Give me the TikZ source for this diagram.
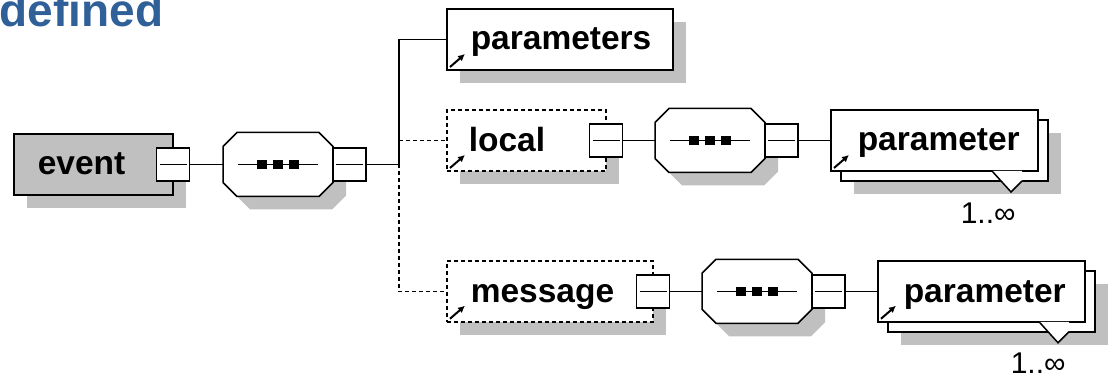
\documentclass[tikz,border=0pt]{standalone}
\usepackage{fontspec}
\setmainfont{Liberation Sans}
\usetikzlibrary{calc,shadows,arrows.meta}
\definecolor{shadegray}{RGB}{192,192,192}
\definecolor{titleblue}{RGB}{47,96,152}
% octagonal outline of a sequence compositor, optionally shifted by (#3,#4)
\newcommand\octshape[4]{%
  \path[#1] ($(#2.north west)+(14+#3,#4)$) -- ($(#2.north east)+(-14+#3,#4)$)
    -- ($(#2.north east)+(#3,14+#4)$) -- ($(#2.south east)+(#3,-14+#4)$)
    -- ($(#2.south east)+(-14+#3,#4)$) -- ($(#2.south west)+(14+#3,#4)$)
    -- ($(#2.south west)+(#3,-14+#4)$) -- ($(#2.north west)+(#3,14+#4)$) -- cycle;}
% full sequence symbol: shadow, body, line and three squares
\newcommand\seqsymbol[1]{%
  \octshape{fill=shadegray}{#1}{13}{13}
  \octshape{draw=black, fill=white}{#1}{0}{0}
  \draw ($(#1.west)+(15,0)$) -- ($(#1.east)+(-15,0)$);
  \foreach \d in {-16,0,16}
    \fill ($(#1.center)+(\d-4.75,-4.75)$) rectangle +(9.5,9.5);}
\begin{document}
\begin{tikzpicture}[x=1pt,y=-1pt,line width=1.5pt,
  shadowed/.style={drop shadow={shadow xshift=13pt, shadow yshift=-13pt, fill=shadegray, opacity=1}},
  box/.style={rectangle, draw=black, fill=white, inner sep=0pt, outer sep=0pt, minimum height=61pt, shadowed},
  optional/.style={dash pattern=on 4pt off 3pt},
  ref/.style={path picture={\draw[solid, line width=2pt, -{Latex[length=7pt,width=7pt]}]
      ([shift={(3pt,3pt)}]path picture bounding box.south west) -- ++(15pt,13pt);}},
  stacked/.style={rectangle, draw=black, fill=white, inner sep=0pt, outer sep=0pt, minimum height=61pt,
      drop shadow={shadow xshift=23pt, shadow yshift=-23pt, fill=shadegray, opacity=1},
      copy shadow={shadow xshift=10pt, shadow yshift=-10pt}},
  conn/.style={rectangle, draw=black, fill=white, solid, inner sep=0pt, outer sep=0pt,
      minimum width=33pt, minimum height=33pt,
      path picture={\draw[solid, line width=1.5pt] ([xshift=3pt]path picture bounding box.west)
        -- ([xshift=-3pt]path picture bounding box.east);}},
  seqframe/.style={rectangle, draw=none, inner sep=0pt, outer sep=0pt, minimum width=110pt, minimum height=64pt},
  elemlabel/.style={anchor=base west, inner sep=0pt, font=\bfseries\fontsize{33.5}{40}\selectfont},
  mult/.style={anchor=base west, inner sep=0pt, font=\fontsize{30}{36}\selectfont},
]
\useasboundingbox (0,0) rectangle (1108,374);

% heading
\node[anchor=base west, inner sep=0pt, text=titleblue, font=\bfseries\fontsize{46}{50}\selectfont] (title) at (-1,27) {defined};

% root element and its sequence
\node[box, fill=shadegray, minimum width=159pt] (event) at (93.5,164.5) {};
\node[elemlabel] (eventlbl) at (37,175) {event};
\node[conn] (eventc) at (173,164.5) {};
\node[seqframe] (seqA) at (278,164.5) {};
\seqsymbol{seqA}
\node[conn] (seqAc) at (349.5,164.5) {};
\coordinate (br) at (399,164.5);

% children of the sequence
\node[box, ref, minimum width=226pt] (params) at (560,39.5) {};
\node[elemlabel] (paramslbl) at (470,50) {parameters};

\node[box, ref, optional, minimum width=159pt] (local) at (526.5,140.5) {};
\node[elemlabel] (locallbl) at (468,151.5) {local};
\node[conn] (localc) at (606,140.5) {};

\node[box, ref, optional, minimum width=206pt] (message) at (550,291.25) {};
\node[elemlabel] (messagelbl) at (470,302) {message};
\node[conn] (msgc) at (653,291.25) {};

% content of local
\node[seqframe] (seqB) at (710,140.5) {};
\seqsymbol{seqB}
\node[conn] (seqBc) at (781.5,140.5) {};
\node[stacked, ref, minimum width=207pt] (par1) at (934.5,140.5) {};
\node[elemlabel] (par1lbl) at (857,151) {parameter};

% content of message
\node[seqframe] (seqC) at (757,291.25) {};
\seqsymbol{seqC}
\node[conn] (seqCc) at (828.5,291.25) {};
\node[stacked, ref, minimum width=207pt] (par2) at (981.5,291.25) {};
\node[elemlabel] (par2lbl) at (903,302) {parameter};

% multiplicity markers below the stacked boxes
\foreach \p in {par1,par2}{
  \fill[white] ($(\p.south east)+(-46,0)$) -- ($(\p.south east)+(-27,21)$) -- ($(\p.south east)+(-16,10)$) -- ($(\p.south east)+(-16,0)$) -- cycle;
  \draw ($(\p.south east)+(-46,0)$) -- ($(\p.south east)+(-27,21)$) -- ($(\p.south east)+(-16,10)$);
}
\node[mult] (mult1) at (960,223) {1..∞};
\node[mult] (mult2) at (1010,373) {1..∞};

% connectors
\draw (eventc.east) -- (seqA.west);
\draw (seqAc.east) -- (br);
\draw (br) |- (params.west);
\draw[optional] (br |- local.west) -- (local.west);
\draw[optional] (br) |- (message.west);
\draw (localc.east) -- (seqB.west);
\draw (seqBc.east) -- (par1.west);
\draw (msgc.east) -- (seqC.west);
\draw (seqCc.east) -- (par2.west);
\end{tikzpicture}
\end{document}
